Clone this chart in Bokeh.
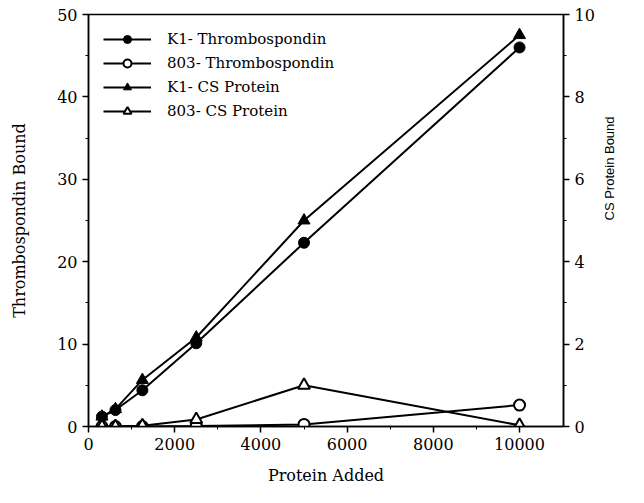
import math
from bokeh.plotting import figure
from bokeh.models import (Range1d, LinearAxis, FixedTicker, Legend, LegendItem)
from bokeh.embed import file_html
from bokeh.resources import INLINE

# Data
protein_added = [312, 625, 1250, 2500, 5000, 10000]
k1_tsp = [1.2, 2.0, 4.4, 10.1, 22.3, 46.0]
tsp_803 = [0.0, 0.0, 0.0, 0.05, 0.25, 2.6]
k1_cs = [0.24, 0.42, 1.13, 2.16, 5.0, 9.5]
cs_803 = [0.0, 0.0, 0.02, 0.17, 1.0, 0.03]

x_ticks = [0, 2000, 4000, 6000, 8000, 10000]
x_minor = [1000, 3000, 5000, 7000, 9000]
y_ticks = [0, 10, 20, 30, 40, 50]
y_minor = [5, 15, 25, 35, 45]
cs_ticks = [0, 2, 4, 6, 8, 10]
cs_minor = [1, 3, 5, 7, 9]

SERIF = "DejaVu Serif"
SANS = "Liberation Sans"

p = figure(width=628, height=487, output_backend="svg", toolbar_location=None,
           x_range=Range1d(0, 11020), y_range=Range1d(0, 50),
           min_border_left=88, min_border_right=65, min_border_top=14, min_border_bottom=57)
p.extra_y_ranges = {"cs": Range1d(0, 10)}
p.grid.visible = False
p.outline_line_color = "black"
p.outline_line_width = 1.5
p.background_fill_color = "white"
p.border_fill_color = "white"

def style_axis(ax, ticks, minor):
    ax.ticker = FixedTicker(ticks=ticks, minor_ticks=minor)
    ax.axis_line_color = "black"
    ax.axis_line_width = 1.5
    ax.major_tick_line_color = "black"
    ax.major_tick_line_width = 1.5
    ax.major_tick_out = 6
    ax.major_tick_in = 0
    ax.minor_tick_line_color = "black"
    ax.minor_tick_out = 3
    ax.minor_tick_in = 0
    ax.major_label_text_font = SERIF
    ax.major_label_text_font_size = "16px"
    ax.major_label_text_color = "black"
    ax.axis_label_text_font_style = "normal"
    ax.axis_label_text_color = "black"

style_axis(p.xaxis[0], x_ticks, x_minor)
style_axis(p.yaxis[0], y_ticks, y_minor)
p.xaxis.axis_label = "Protein Added"
p.xaxis.axis_label_text_font = SERIF
p.xaxis.axis_label_text_font_size = "16px"
p.xaxis.axis_label_standoff = 13
p.yaxis.axis_label = "Thrombospondin Bound"
p.yaxis.axis_label_text_font = SERIF
p.yaxis.axis_label_text_font_size = "16px"
p.yaxis.axis_label_standoff = 25

rax = LinearAxis(y_range_name="cs")
style_axis(rax, cs_ticks, cs_minor)
rax.axis_label = "CS Protein Bound"
rax.axis_label_text_font = SANS
rax.axis_label_text_font_size = "13px"
rax.axis_label_standoff = 12
rax.axis_label_orientation = math.pi / 2
p.add_layout(rax, "right")

lw = 2
sz = 11
l1 = p.line(protein_added, k1_tsp, line_color="black", line_width=lw)
s1 = p.scatter(protein_added, k1_tsp, marker="circle", size=sz, fill_color="black", line_color="black")
l2 = p.line(protein_added, tsp_803, line_color="black", line_width=lw)
s2 = p.scatter(protein_added, tsp_803, marker="circle", size=sz, fill_color="white", line_color="black", line_width=2)
l3 = p.line(protein_added, k1_cs, line_color="black", line_width=lw, y_range_name="cs")
s3 = p.scatter(protein_added, k1_cs, marker="triangle", size=sz + 1, fill_color="black", line_color="black", y_range_name="cs")
l4 = p.line(protein_added, cs_803, line_color="black", line_width=lw, y_range_name="cs")
s4 = p.scatter(protein_added, cs_803, marker="triangle", size=sz + 1, fill_color="white", line_color="black", line_width=2, y_range_name="cs")

legend = Legend(items=[
    LegendItem(label="K1- Thrombospondin", renderers=[l1, s1]),
    LegendItem(label="803- Thrombospondin", renderers=[l2, s2]),
    LegendItem(label="K1- CS Protein", renderers=[l3, s3]),
    LegendItem(label="803- CS Protein", renderers=[l4, s4]),
], location="top_left")
legend.border_line_color = None
legend.background_fill_alpha = 0
legend.label_text_font = SERIF
legend.label_text_font_size = "15px"
legend.label_text_color = "black"
legend.glyph_width = 48
legend.glyph_height = 20
legend.spacing = 4
legend.label_standoff = 16
legend.margin = 15
legend.padding = 13
p.add_layout(legend)

open("out.html", "w").write(file_html(p, INLINE))
